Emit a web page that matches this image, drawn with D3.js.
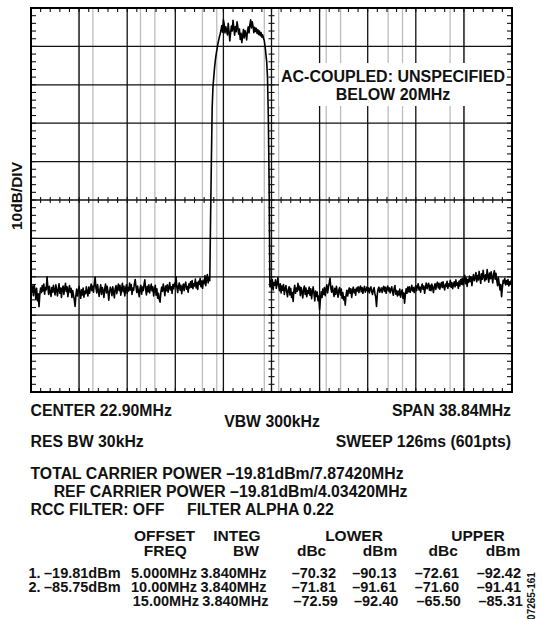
<!DOCTYPE html>
<html>
<head>
<meta charset="utf-8">
<script src="https://cdn.jsdelivr.net/npm/d3@7/dist/d3.min.js"></script>
<style>
  html, body { margin: 0; padding: 0; background: #fff; }
  svg { display: block; }
  text { font-family: "Liberation Sans", Arial, Helvetica, sans-serif; font-weight: bold; fill: #111; }
</style>
</head>
<body>
<svg id="chart" width="543" height="619"></svg>
<script>
// Analyzer settings shown under the display
const centerMHz = 22.90;
const spanMHz = 38.84;
const refLevelDbm = -40;
const dbPerDiv = 10;
const divisions = 10;
const minorPerDiv = 5;

// Integration bands (centre frequencies, MHz): lower offsets, two carriers, upper offsets
const bandCentersMHz = [5.4, 10.4, 15.4, 20.4, 25.4, 30.4, 35.4, 40.4];
const bandWidthMHz = 3.84;

// Swept trace, dBm at each of the 601 sweep points across the span
const traceDbm = [
  // lower noise floor
  -111.6, -113.8, -112.4, -114.9, -112.1, -113.5, -115.8, -113.0, -116.2, -114.4,
  -117.8, -114.6, -112.9, -114.1, -112.3, -113.7, -111.9, -114.5, -112.8, -113.4,
  -110.0, -112.7, -114.6, -112.5, -113.9, -115.1, -112.8, -114.0, -112.2, -113.6,
  -114.7, -112.1, -113.3, -115.0, -113.2, -111.8, -114.3, -112.9, -115.4, -113.1,
  -112.4, -114.6, -113.0, -111.7, -113.8, -112.6, -115.2, -113.5, -112.3, -114.1,
  -113.0, -115.4, -113.6, -114.8, -116.0, -117.7, -114.9, -113.2, -115.0, -113.7,
  -112.5, -114.2, -115.6, -113.4, -114.7, -112.9, -115.3, -113.8, -114.4, -112.6,
  -113.9, -115.0, -112.7, -114.3, -113.1, -111.9, -113.6, -112.4, -114.0, -111.8,
  -110.1, -112.9, -114.2, -112.0, -113.5, -115.1, -113.3, -112.1, -114.6, -112.8,
  -113.7, -115.4, -113.0, -111.9, -114.2, -112.5, -113.8, -116.1, -114.0, -112.7,
  -113.4, -114.9, -112.6, -113.9, -115.5, -113.1, -112.3, -114.4, -113.0, -111.9,
  -113.6, -112.2, -114.8, -113.3, -111.7, -113.9, -112.5, -115.0, -113.2, -112.1,
  -114.3, -112.8, -113.7, -111.6, -113.4, -112.0, -114.6, -112.9, -113.5, -111.8,
  -110.7, -112.6, -114.1, -112.4, -113.8, -115.2, -113.0, -112.2, -114.5, -112.7,
  -113.6, -112.0, -110.8, -113.3, -114.7, -112.5, -113.9, -112.1, -114.2, -113.0,
  -111.9, -113.7, -112.6, -115.0, -113.4, -112.2, -114.8, -113.1, -115.6, -114.3,
  -115.9, -116.6, -114.0, -112.7, -113.8, -111.9, -113.2, -114.9, -112.4, -113.6,
  -112.1, -114.0, -112.8, -111.5, -113.4, -112.6, -114.3, -112.0, -113.1, -111.7,
  -112.4, -110.0, -112.9, -114.1, -112.3, -111.6, -113.5, -112.2, -114.4, -112.8,
  -111.9, -113.6, -112.1, -111.4, -113.2, -112.5, -114.0, -111.8, -112.9, -111.3,
  -112.7, -111.0, -113.1, -111.8, -112.4, -110.6, -112.9, -111.5, -113.3, -111.2,
  -112.0, -110.4, -112.6, -111.1, -113.0, -110.9, -111.8, -109.7, -112.3, -110.5,
  -109.4, -111.6, -110.2, -111.0,
  // carrier 1
  -95.0, -80.0, -66.0, -60.5, -58.0, -55.5, -53.5, -52.0, -50.8, -49.5,
  -48.5, -47.5, -46.8,
  -45.8, -44.6, -46.3, -43.1, -44.2, -46.5, -44.9, -45.8, -47.0, -44.0,
  -46.1, -48.6, -46.4, -44.7, -46.0, -43.2, -45.3, -47.1, -44.8, -46.2,
  -43.6, -45.0, -46.8, -45.5, -48.2, -46.6, -49.0, -47.3, -45.6, -47.8,
  -45.9, -46.7, -48.3, -46.0, -44.9, -46.5, -44.4, -43.1, -45.2, -43.6,
  -44.8, -46.4, -45.0, -46.1, -45.3, -46.6, -45.7, -46.9, -46.0, -47.2,
  -46.4, -47.6, -47.0,
  -47.8, -48.5, -50.0, -52.0, -54.0, -58.0, -68.0, -85.0,
  // upper noise floor
  -112.6, -111.0, -112.9, -110.7, -113.4, -111.5, -112.2, -110.8, -113.0, -111.7,
  -110.2, -112.5, -113.6, -111.8, -114.2, -112.4, -113.5, -112.0, -114.6, -113.1,
  -112.3, -114.0, -115.2, -113.3, -112.6, -114.7, -113.0, -115.4, -114.1, -116.4,
  -113.5, -112.2, -114.3, -112.9, -113.8, -111.7, -113.4, -112.5, -114.9, -112.8,
  -113.9, -115.5, -113.2, -112.4, -114.6, -112.9, -115.2, -113.6, -114.3, -112.7,
  -114.8, -113.1, -115.7, -113.9, -112.6, -114.4, -116.3, -113.7, -115.1, -114.0,
  -116.2, -115.0, -118.5, -115.8, -113.9, -115.4, -113.2, -114.6, -112.8, -114.9,
  -113.3, -112.1, -114.2, -112.7, -111.6, -110.3, -112.9, -114.0, -112.4, -113.8,
  -115.1, -113.0, -114.6, -112.5, -113.9, -115.3, -113.4, -112.8, -114.7, -113.2,
  -115.6, -114.1, -116.0, -115.2, -117.4, -114.8, -113.5, -115.0, -113.7, -112.9,
  -114.3, -113.1, -115.4, -113.6, -112.7, -114.2, -113.3, -114.8, -112.9, -113.7,
  -112.6, -114.1, -113.0, -112.4, -113.9, -112.8, -114.3, -113.2, -112.5, -114.0,
  -113.4, -112.7, -113.8, -112.9, -114.2, -113.1, -112.6, -113.9, -114.6, -113.3,
  -112.8, -114.4, -115.3, -117.7, -114.5, -113.2, -112.7, -114.0, -113.4, -112.9,
  -114.1, -113.0, -112.5, -113.8, -112.7, -114.3, -113.1, -112.4, -113.7, -112.9,
  -114.2, -113.3, -112.6, -113.9, -114.8, -113.0, -112.3, -114.5, -113.6, -115.0,
  -113.8, -114.7, -113.2, -115.3, -114.1, -113.4, -115.6, -114.2, -116.9, -114.5,
  -113.1, -114.3, -112.7, -113.9, -112.6, -114.0, -113.3, -112.2, -113.7, -112.8,
  -114.1, -112.9, -112.3, -113.6, -112.5, -111.8, -113.4, -112.7, -114.0, -112.6,
  -111.9, -113.2, -112.4, -114.3, -112.8, -111.6, -113.1, -112.3, -111.7, -113.5,
  -112.2, -113.6, -111.9, -112.8, -114.1, -112.6, -111.8, -113.3, -112.0, -111.4,
  -112.9, -111.7, -113.2, -112.1, -111.5, -112.8, -111.3, -112.6, -113.4, -111.9,
  -112.5, -111.2, -113.0, -111.8, -112.4, -110.9, -112.7, -111.5, -113.1, -112.0,
  -111.3, -112.6, -110.8, -112.2, -111.6, -113.0, -111.1, -112.4, -110.7, -111.9,
  -110.4, -112.1, -110.9, -109.6, -111.8, -110.3, -112.5, -110.7, -111.4, -109.8,
  -111.2, -110.1, -112.3, -110.6, -109.4, -111.0, -110.2, -108.9, -111.3, -109.7,
  -110.8, -108.6, -110.4, -111.7, -109.2, -110.6, -108.3, -109.9, -111.1, -109.5,
  -110.7, -108.1, -109.8, -111.4, -109.0, -110.5, -108.7, -110.2, -111.6, -109.3,
  -108.4, -110.6, -109.1, -111.0, -112.3, -110.2, -111.8, -113.4, -112.0, -115.2,
  -112.8, -110.9, -111.6, -110.4, -112.1, -111.0, -111.9, -110.7, -112.4, -111.3,
  -111.8, -110.9, -111.5
];

// Measurement table
const carrierPowersDbm = [-19.81, -85.75];
const offsetFreqs = ["5.000MHz", "10.00MHz", "15.00MHz"];
const integBws = ["3.840MHz", "3.840MHz", "3.840MHz"];
const lowerDbc = [-70.32, -71.81, -72.59];
const lowerDbm = [-90.13, -91.61, -92.40];
const upperDbc = [-72.61, -71.60, -65.50];
const upperDbm = [-92.42, -91.41, -85.31];

const svg = d3.select("#chart");
const plot = { left: 31, right: 512, top: 8, bottom: 392 };

const fStart = centerMHz - spanMHz / 2;
const fStop = centerMHz + spanMHz / 2;
const x = d3.scaleLinear().domain([fStart, fStop]).range([plot.left, plot.right]);
const y = d3.scaleLinear().domain([refLevelDbm - dbPerDiv * divisions, refLevelDbm]).range([plot.bottom, plot.top]);

const majorF = d3.range(divisions + 1).map(i => fStart + i * spanMHz / divisions);
const majorDb = d3.range(divisions + 1).map(i => refLevelDbm - i * dbPerDiv);
const minorF = d3.range(divisions * minorPerDiv + 1).map(i => fStart + i * spanMHz / (divisions * minorPerDiv));
const minorDb = d3.range(divisions * minorPerDiv + 1).map(i => refLevelDbm - i * dbPerDiv / minorPerDiv);

// Band edge markers (grey)
const bandEdges = [];
bandCentersMHz.forEach(c => { bandEdges.push(c - bandWidthMHz / 2, c + bandWidthMHz / 2); });
svg.append("g").selectAll("line").data(bandEdges.filter(f => f > fStart + 0.05 && f < fStop - 0.05)).join("line")
  .attr("x1", d => x(d)).attr("x2", d => x(d))
  .attr("y1", plot.top).attr("y2", plot.bottom)
  .attr("stroke", "#bdbdbd").attr("stroke-width", 1.3);

// Graticule
const grid = svg.append("g").attr("stroke", "#111").attr("stroke-width", 1.3);
grid.selectAll(".v").data(majorF.slice(1, -1)).join("line")
  .attr("x1", d => x(d)).attr("x2", d => x(d)).attr("y1", plot.top).attr("y2", plot.bottom);
grid.selectAll(".h").data(majorDb.slice(1, -1)).join("line")
  .attr("x1", plot.left).attr("x2", plot.right).attr("y1", d => y(d)).attr("y2", d => y(d));

// Minor ticks on frame edges and centre lines
const ticks = svg.append("g").attr("stroke", "#111").attr("stroke-width", 1.1);
const midX = x(centerMHz);
const midY = y(refLevelDbm - dbPerDiv * divisions / 2);
const tickLen = 4;
minorF.forEach(f => {
  const px = x(f);
  ticks.append("line").attr("x1", px).attr("x2", px).attr("y1", plot.top).attr("y2", plot.top + tickLen);
  ticks.append("line").attr("x1", px).attr("x2", px).attr("y1", plot.bottom).attr("y2", plot.bottom - tickLen);
  ticks.append("line").attr("x1", px).attr("x2", px).attr("y1", midY - 3).attr("y2", midY + 3);
});
minorDb.forEach(db => {
  const py = y(db);
  ticks.append("line").attr("x1", plot.left).attr("x2", plot.left + tickLen + 1).attr("y1", py).attr("y2", py);
  ticks.append("line").attr("x1", plot.right).attr("x2", plot.right - tickLen - 1).attr("y1", py).attr("y2", py);
  ticks.append("line").attr("x1", midX - 3).attr("x2", midX + 3).attr("y1", py).attr("y2", py);
});

// Annotation box
const note = svg.append("g");
note.append("rect").attr("x", 279).attr("y", 63).attr("width", 227).attr("height", 43).attr("fill", "#fff");
note.append("text").attr("x", 393).attr("y", 82).attr("text-anchor", "middle").attr("font-size", 16).text("AC-COUPLED: UNSPECIFIED");
note.append("text").attr("x", 393).attr("y", 99.5).attr("text-anchor", "middle").attr("font-size", 16).text("BELOW 20MHz");

// Trace
const step = spanMHz / (traceDbm.length - 1);
const line = d3.line().x((d, i) => x(fStart + i * step)).y(d => y(d));
svg.append("path").datum(traceDbm).attr("d", line)
  .attr("fill", "none").attr("stroke", "#000").attr("stroke-width", 1.6).attr("stroke-linejoin", "round");

// Frame
svg.append("rect").attr("x", plot.left).attr("y", plot.top)
  .attr("width", plot.right - plot.left).attr("height", plot.bottom - plot.top)
  .attr("fill", "none").attr("stroke", "#000").attr("stroke-width", 2);

// Y scale label
svg.append("text").attr("transform", `translate(22,196) rotate(-90)`)
  .attr("text-anchor", "middle").attr("font-size", 15.5).text("10dB/DIV");

// Settings text
function label(px, py, str, anchor = "start", size = 15.8, weight = "bold") {
  return svg.append("text").attr("x", px).attr("y", py).attr("text-anchor", anchor)
    .attr("font-size", size).attr("font-weight", weight).text(str);
}
const dash = v => (v < 0 ? "\u2013" : "") + Math.abs(v).toFixed(2);

label(30.5, 416, `CENTER ${centerMHz.toFixed(2)}MHz`);
label(272, 426.5, "VBW 300kHz", "middle");
label(511, 416, `SPAN ${spanMHz.toFixed(2)}MHz`, "end");
label(30.5, 447, "RES BW 30kHz");
label(511, 447, "SWEEP 126ms (601pts)", "end");
label(30.5, 479.3, `TOTAL CARRIER POWER ${dash(carrierPowersDbm[0])}dBm/7.87420MHz`);
label(53.7, 497.3, `REF CARRIER POWER ${dash(carrierPowersDbm[0])}dBm/4.03420MHz`);
label(30.5, 514.5, "RCC FILTER: OFF");
label(187, 514.5, "FILTER ALPHA 0.22");

// Table headers
const hdrSize = 15.5;
const hdr1 = 541, hdr2 = 555.5;
label(164.5, hdr1, "OFFSET", "middle", hdrSize);
label(237, hdr1, "INTEG", "middle", hdrSize);
label(354, hdr1, "LOWER", "middle", hdrSize);
label(478, hdr1, "UPPER", "middle", hdrSize);
label(165.3, hdr2, "FREQ", "middle", hdrSize);
label(246, hdr2, "BW", "middle", hdrSize);
label(311.6, hdr2, "dBc", "middle", hdrSize);
label(380, hdr2, "dBm", "middle", hdrSize);
label(443.2, hdr2, "dBc", "middle", hdrSize);
label(503, hdr2, "dBm", "middle", hdrSize);

// Table rows
const rowSize = 14.5;
const rowY = [578, 592, 605.6];
const rowShift = [0, 0, 1.8];
rowY.forEach((ry, r) => {
  const s = rowShift[r];
  if (r < carrierPowersDbm.length) {
    label(28.5, ry, `${r + 1}.`, "start", rowSize);
    label(44, ry, `${dash(carrierPowersDbm[r])}dBm`, "start", rowSize);
  }
  label(131 + s, ry, offsetFreqs[r], "start", rowSize);
  label(266.6 + s, ry, integBws[r], "end", rowSize);
  label(336 + s, ry, dash(lowerDbc[r]), "end", rowSize);
  label(396.5 + s, ry, dash(lowerDbm[r]), "end", rowSize);
  label(459 + s, ry, dash(upperDbc[r]), "end", rowSize);
  label(521 + s, ry, dash(upperDbm[r]), "end", rowSize);
});

// Figure number
svg.append("text").attr("transform", "translate(535,596) rotate(-90)")
  .attr("text-anchor", "middle").attr("font-size", 10).attr("font-weight", "normal")
  .attr("fill", "#333").text("07265-161");
</script>
</body>
</html>
